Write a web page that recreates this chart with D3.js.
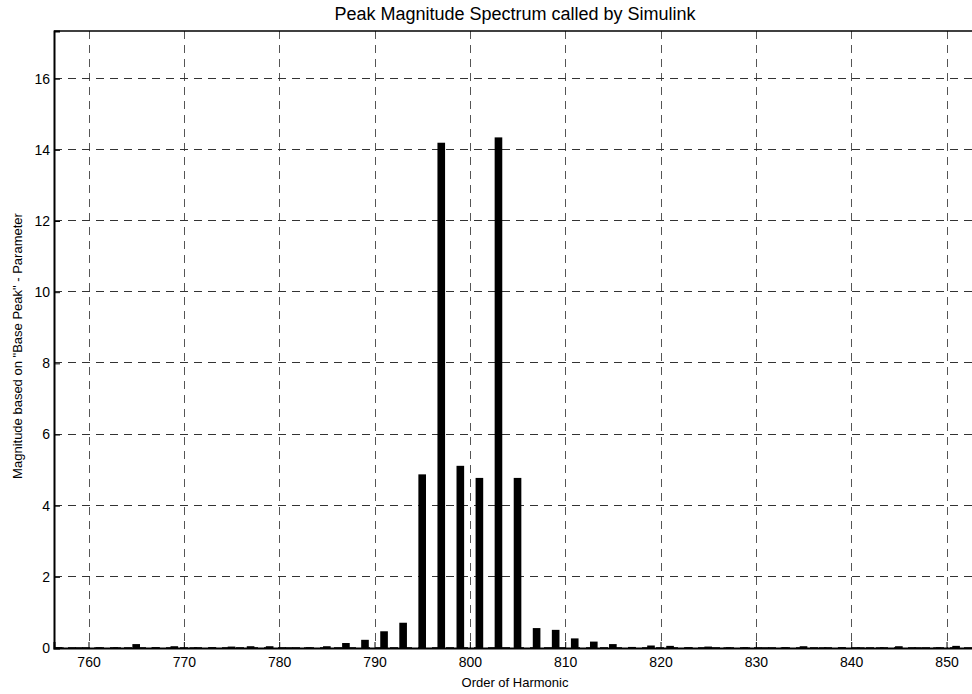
<!DOCTYPE html>
<html>
<head>
<meta charset="utf-8">
<script src="https://cdn.jsdelivr.net/npm/d3@7"></script>
<style>
  html, body { margin: 0; padding: 0; background: #fff; }
  svg { display: block; font-family: "Liberation Sans", Arial, Helvetica, sans-serif; }
</style>
</head>
<body>
<svg id="chart" width="972" height="694"></svg>
<script>
const harmonics = [757,759,761,763,765,767,769,771,773,775,777,779,781,783,785,787,789,791,793,795,797,799,801,803,805,807,809,811,813,815,817,819,821,823,825,827,829,831,833,835,837,839,841,843,845,847,849,851];
const magnitudes = [0.02,0.02,0.02,0.02,0.11,0.02,0.05,0.02,0.02,0.04,0.05,0.05,0.02,0.02,0.05,0.14,0.23,0.47,0.71,4.88,14.2,5.12,4.78,14.35,4.78,0.56,0.51,0.27,0.18,0.11,0.03,0.07,0.06,0.02,0.04,0.02,0.02,0.02,0.02,0.05,0.02,0.02,0.02,0.02,0.05,0.02,0.02,0.06];
const xTicks = [760,770,780,790,800,810,820,830,840,850];
const yTicks = [0,2,4,6,8,10,12,14,16];
const titleText = "Peak Magnitude Spectrum called by Simulink";
const xLabel = "Order of Harmonic";
const yLabel = "Magnitude based on \"Base Peak\" - Parameter";

(function () {
const svg = d3.select("#chart");
const mLeft = 54, mRight = 974, mTop = 31, mBottom = 648;

const x = d3.scaleLinear().domain([756.38, 852.88]).range([mLeft, mRight]);
const y = d3.scaleLinear().domain([0, 17.34]).range([mBottom, mTop]);
const barW = x(0.8) - x(0);

// grid
const grid = svg.append("g");
grid.selectAll("line.v").data(xTicks).join("line")
  .attr("x1", d => Math.round(x(d)) + 0.5).attr("x2", d => Math.round(x(d)) + 0.5)
  .attr("y1", mTop).attr("y2", mBottom)
  .attr("stroke", "#555").attr("stroke-width", 1).attr("stroke-dasharray", "8,6");
grid.selectAll("line.h").data(yTicks).join("line")
  .attr("x1", mLeft).attr("x2", mRight)
  .attr("y1", d => Math.round(y(d)) - 0.5).attr("y2", d => Math.round(y(d)) - 0.5)
  .attr("stroke", "#333").attr("stroke-width", 1).attr("stroke-dasharray", "8,6");

// bars
svg.append("g").selectAll("rect").data(harmonics).join("rect")
  .attr("x", (d) => x(d) - barW / 2)
  .attr("width", barW)
  .attr("y", (d, i) => y(magnitudes[i]))
  .attr("height", (d, i) => mBottom - y(magnitudes[i]))
  .attr("fill", "#000");

// axes
const xAxis = d3.axisBottom(x).tickValues(xTicks).tickSize(-6).tickPadding(9).tickFormat(d3.format("d"));
const gx = svg.append("g").attr("transform", `translate(0,${mBottom})`).call(xAxis);
gx.select(".domain").attr("stroke", "#000").attr("stroke-width", 2);
gx.selectAll("text").attr("font-size", 14).attr("fill", "#000").attr("font-family", "Liberation Sans, Arial, sans-serif");

const yAxis = d3.axisLeft(y).tickValues(yTicks).tickSize(-6).tickPadding(4).tickFormat(d3.format("d"));
const gy = svg.append("g").attr("transform", `translate(${mLeft},0)`).call(yAxis);
gy.select(".domain").attr("stroke", "#000").attr("stroke-width", 2);
gy.selectAll("text").attr("font-size", 14).attr("fill", "#000").attr("font-family", "Liberation Sans, Arial, sans-serif");

// top border
svg.append("line").attr("x1", mLeft).attr("x2", mRight).attr("y1", mTop).attr("y2", mTop)
  .attr("stroke", "#000").attr("stroke-width", 1.5);

// labels
svg.append("text").attr("x", 515).attr("y", 19.5).attr("text-anchor", "middle")
  .attr("font-size", 18).text(titleText);
svg.append("text").attr("x", 515).attr("y", 687).attr("text-anchor", "middle")
  .attr("font-size", 13).text(xLabel);
svg.append("text").attr("transform", `translate(22,346) rotate(-90)`)
  .attr("text-anchor", "middle").attr("font-size", 13).text(yLabel);
})();
</script>
</body>
</html>
